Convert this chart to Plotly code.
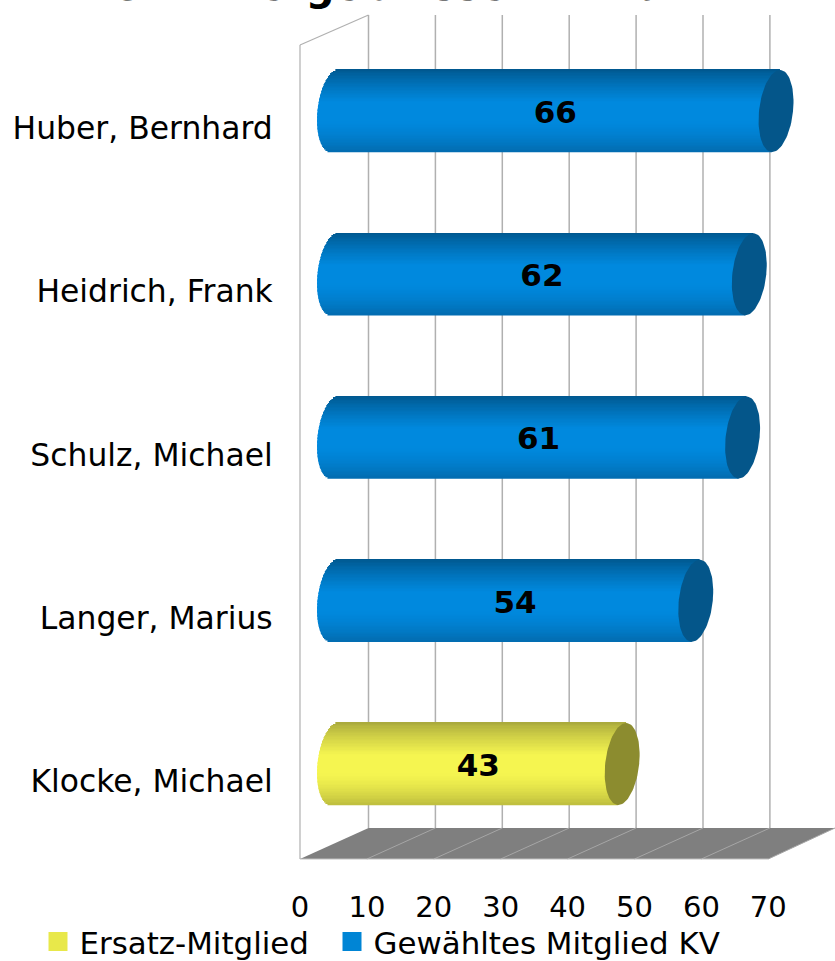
import numpy as np
import plotly.graph_objects as go

# ---- data ----
names = ["Huber, Bernhard", "Heidrich, Frank", "Schulz, Michael", "Langer, Marius", "Klocke, Michael"]
votes = [66, 62, 61, 54, 43]
groups = ["Gewähltes Mitglied KV", "Gewähltes Mitglied KV", "Gewähltes Mitglied KV", "Gewähltes Mitglied KV", "Ersatz-Mitglied"]
x_ticks = [0, 10, 20, 30, 40, 50, 60, 70]
legend_order = ["Ersatz-Mitglied", "Gewähltes Mitglied KV"]
title_text = "Stimmergebnisse KV-Wahl"

# ---- style ----
FONT = "DejaVu Sans"
W, H = 835, 985       # figure runs a little past the 961 px window so the legend fits without shrinking the plot
PLOT_L, PLOT_B = 300, 859
PX_X = 6.69           # px per vote
PX_Y = 163.25         # px per category
XMIN = -PLOT_L / PX_X
XMAX = (W - PLOT_L) / PX_X
Y_TOP = -128 / PX_Y
Y_BOT = (PLOT_B - 128) / PX_Y
Y_PAGE_BOT = (H - 128) / PX_Y
DEPTH_X = 68.5 / PX_X
DEPTH_Y = 31 / PX_Y
BAR_DX = 34.5 / PX_X  # cylinder axis offset
BAR_DY = -17 / PX_Y
BAR_RY = 41 / PX_Y
BAR_RX = 17 / PX_X
SHEAR = 4 / PX_X
STOPS = {
    "Gewähltes Mitglied KV": dict(top=(0, 86, 140), mid=(0, 137, 222), bot=(2, 108, 176), cap="#04568a", swatch="#0085d5"),
    "Ersatz-Mitglied": dict(top=(168, 168, 60), mid=(245, 245, 80), bot=(190, 190, 62), cap="#8c8c2f", swatch="#e8e84a"),
}
LEGEND_X = {"Ersatz-Mitglied": 50, "Gewähltes Mitglied KV": 344}
N_BANDS = 60


def band_colour(s, u):
    # u: -1 = top of cylinder, +1 = bottom
    if u < -0.2:
        t = (u + 1) / 0.8
        t = t ** 0.8
        c = [a + (b - a) * t for a, b in zip(s["top"], s["mid"])]
    elif u < 0.2:
        c = s["mid"]
    else:
        t = ((u - 0.2) / 0.8) ** 1.6
        c = [a + (b - a) * t for a, b in zip(s["mid"], s["bot"])]
    return "rgb(%d,%d,%d)" % tuple(round(v) for v in c)


# cylinder bodies: one thin horizontal bar per shading band
ys, bases, lens, cols = [], [], [], []
edges = np.linspace(-1, 1, N_BANDS + 1)
mids = (edges[:-1] + edges[1:]) / 2
band_w = 2 * BAR_RY / N_BANDS
for i, (v, g) in enumerate(zip(votes, groups)):
    for u in mids:
        left = BAR_DX - BAR_RX * np.sqrt(1 - u * u) - SHEAR * u
        right = BAR_DX + v - SHEAR * u
        ys.append(i + BAR_DY + u * BAR_RY)
        bases.append(left)
        lens.append(right - left)
        cols.append(band_colour(STOPS[g], u))

fig = go.Figure()
fig.add_trace(go.Bar(y=ys, x=lens, base=bases, orientation="h", width=band_w * 1.25,
                     marker=dict(color=cols, line=dict(width=0)), showlegend=False, hoverinfo="skip"))

# cylinder end caps
t = np.linspace(0, 2 * np.pi, 90)
for i, (v, g) in enumerate(zip(votes, groups)):
    fig.add_trace(go.Scatter(
        x=BAR_DX + v + BAR_RX * np.cos(t) - SHEAR * np.sin(t),
        y=i + BAR_DY + BAR_RY * np.sin(t),
        mode="lines", fill="toself", fillcolor=STOPS[g]["cap"],
        line=dict(width=0), showlegend=False, hoverinfo="skip"))

# value labels
fig.add_trace(go.Scatter(
    x=[BAR_DX + v / 2 for v in votes], y=[i + BAR_DY + 4 / PX_Y for i in range(len(votes))],
    mode="text", text=[str(v) for v in votes],
    textfont=dict(family=FONT, size=31, color="black", weight="bold"),
    textposition="middle center", showlegend=False, hoverinfo="skip"))

# legend entries, each in its own legend so that they can sit at their own places
legends = {}
for n, g in enumerate(legend_order):
    key = "legend" if n == 0 else f"legend{n + 1}"
    fig.add_trace(go.Scatter(x=[None], y=[None], mode="markers", name=g, legend=key,
                             marker=dict(symbol="square", size=16, color=STOPS[g]["swatch"],
                                         line=dict(width=3, color=STOPS[g]["swatch"]))))
    legends[key] = dict(orientation="h", x=(LEGEND_X[g] - 13.5) / W, xanchor="left",
                        y=1 - 915 / H, yanchor="top", font=dict(size=30.9, family=FONT),
                        bgcolor="rgba(0,0,0,0)", itemwidth=33, itemsizing="trace")

# walls, floor and gridlines derived from the axis ticks
GRID = "#b0b0b0"
shapes = []
back = [v + DEPTH_X for v in x_ticks[:-1]]
y_floor_back = Y_BOT - DEPTH_Y
y_wall_top = 15 / PX_Y + Y_TOP
for bx in back:
    shapes.append(dict(type="line", x0=bx, x1=bx, y0=y_wall_top, y1=y_floor_back, layer="below",
                       line=dict(color=GRID, width=1.5)))
shapes.append(dict(type="path", layer="below", fillcolor="#7f7f7f", line=dict(width=0),
                   path=f"M 0 {Y_BOT} L {DEPTH_X} {y_floor_back} L {XMAX} {y_floor_back} L {x_ticks[-1]} {Y_BOT} Z"))
for v in x_ticks[1:]:
    shapes.append(dict(type="line", x0=v, x1=min(v + DEPTH_X, XMAX), y0=Y_BOT, y1=y_floor_back, layer="below",
                       line=dict(color="#a6a6a6", width=1)))
shapes.append(dict(type="line", x0=0, x1=x_ticks[-1], y0=Y_BOT, y1=Y_BOT, layer="below", line=dict(color="#c0c0c0", width=1.2)))
wall_front_top = Y_TOP + 45 / PX_Y
shapes.append(dict(type="line", x0=0, x1=0, y0=wall_front_top, y1=Y_BOT, layer="below", line=dict(color=GRID, width=1.2)))
shapes.append(dict(type="line", x0=0, x1=DEPTH_X, y0=wall_front_top, y1=y_wall_top, layer="below", line=dict(color=GRID, width=1.2)))

fig.update_layout(
    width=W, height=H, margin=dict(l=0, r=0, t=0, b=0, pad=0),
    paper_bgcolor="white", plot_bgcolor="white", barmode="overlay", shapes=shapes,
    font=dict(family=FONT, color="black"),
    xaxis=dict(range=[XMIN, XMAX], anchor="free", position=(H - PLOT_B) / H, tickvals=x_ticks,
               ticktext=[str(v) for v in x_ticks], showgrid=False, zeroline=False,
               showline=False, ticks="outside", ticklen=22, tickcolor="rgba(0,0,0,0)", tickfont=dict(size=29, family=FONT)),
    yaxis=dict(range=[Y_PAGE_BOT, Y_TOP], anchor="free", position=PLOT_L / W, tickvals=list(range(len(names))),
               ticktext=names, showgrid=False, zeroline=False,
               showline=False, ticks="outside", ticklen=21, tickcolor="rgba(0,0,0,0)", tickfont=dict(size=31.4, family=FONT)),
    annotations=[dict(text=title_text, xref="paper", yref="paper", x=410 / W, y=1 + 39 / H,
                      xanchor="center", yanchor="top", showarrow=False,
                      font=dict(size=40, family=FONT, color="black", weight="bold"))],
    **legends,
)
fig.write_html("out.html", config={"displayModeBar": False},
               post_script="document.body.style.margin='0';document.documentElement.style.overflow='hidden';document.body.style.overflow='hidden';window.dispatchEvent(new Event('resize'));")
